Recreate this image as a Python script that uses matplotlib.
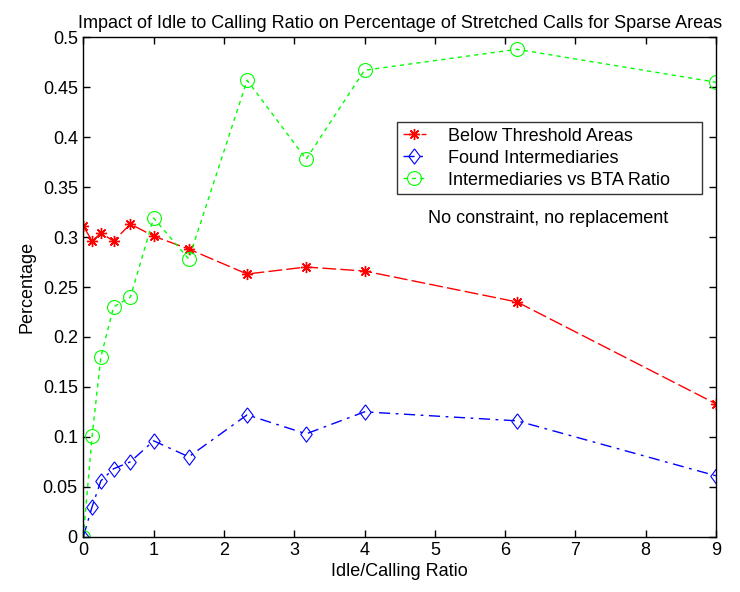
import matplotlib
matplotlib.use('Agg')
import matplotlib.pyplot as plt
from matplotlib.ticker import FormatStrFormatter

# data
ratio = [0, 0.125, 0.25, 0.43, 0.67, 1, 1.5, 2.33, 3.17, 4, 6.17, 9]
below_threshold = [0.311, 0.296, 0.304, 0.296, 0.313, 0.301, 0.288, 0.263, 0.270, 0.266, 0.235, 0.133]
found_intermediaries = [0, 0.030, 0.056, 0.068, 0.075, 0.096, 0.080, 0.122, 0.103, 0.125, 0.116, 0.061]
bta_ratio = [0, 0.101, 0.180, 0.230, 0.240, 0.319, 0.278, 0.457, 0.378, 0.467, 0.488, 0.455]

xticks = list(range(0, 10))
yticks = [0, 0.05, 0.1, 0.15, 0.2, 0.25, 0.3, 0.35, 0.4, 0.45, 0.5]

plt.rcParams['font.family'] = ['Liberation Sans', 'DejaVu Sans']
plt.rcParams['font.size'] = 13

# matlab style markers
diamond = [(0, 1), (0.75, 0), (0, -1), (-0.75, 0), (0, 1)]
asterisk = (8, 2, 0)

fig = plt.figure(figsize=(7.4, 5.92), dpi=100)
ax = fig.add_axes([0.1126, 0.0934, 0.855, 0.8436])

ax.plot(ratio, below_threshold, color='#ff0000', linestyle=(0, (10, 3)), linewidth=1,
        marker=asterisk, markersize=8, markeredgewidth=1, label='Below Threshold Areas')
ax.plot(ratio, found_intermediaries, color='#0000ff', linestyle=(0, (8, 4, 2, 4)), linewidth=1,
        marker=diamond, markersize=11, markerfacecolor='none', markeredgewidth=0.8,
        label='Found Intermediaries')
ax.plot(ratio, bta_ratio, color='#00ff00', linestyle=(0, (3, 3)), linewidth=1,
        marker='o', markersize=10, markerfacecolor='none', markeredgewidth=0.8,
        label='Intermediaries vs BTA Ratio')

ax.set_xlim(0, 9)
ax.set_ylim(0, 0.5)
ax.set_xticks(xticks)
ax.set_yticks(yticks)
ax.yaxis.set_major_formatter(FormatStrFormatter('%g'))
ax.tick_params(direction='in', top=True, right=True, length=5, width=1, pad=4)
for s in ax.spines.values():
    s.set_linewidth(1)

ax.set_title('Impact of Idle to Calling Ratio on Percentage of Stretched Calls for Sparse Areas',
             fontsize=13, pad=7)
ax.set_xlabel('Idle/Calling Ratio', labelpad=3)
ax.set_ylabel('Percentage', labelpad=5)

leg = ax.legend(loc='upper left', bbox_to_anchor=(0.496, 0.5, 0.482, 0.33), mode='expand',
                borderaxespad=0, frameon=True, fancybox=False, edgecolor='black',
                handlelength=1.3, borderpad=0.3, labelspacing=0.28, handletextpad=1.2)
leg.get_frame().set_linewidth(1)

ax.text(0.734, 0.638, 'No constraint, no replacement', transform=ax.transAxes,
        ha='center', va='center')

fig.savefig('out.png', dpi=100)
